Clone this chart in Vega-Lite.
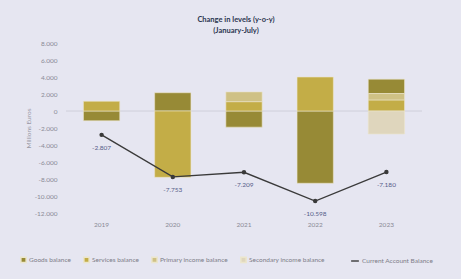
{
  "$schema": "https://vega.github.io/schema/vega-lite/v6.json",
  "width": 356,
  "height": 170,
  "autosize": {"type": "none"},
  "padding": {"left": 66, "top": 43, "right": 39, "bottom": 66},
  "background": "#e6e6f1",
  "config": {
    "locale": {"number": {"decimal": ",", "thousands": ".", "grouping": [3], "currency": ["", " €"], "minus": "-"}},
    "view": {"stroke": null},
    "font": "Lato",
    "axisX": {"ticks": false, "domain": false, "grid": false, "labelAngle": 0, "labelFontSize": 6.5, "labelColor": "#8a8a96", "labelPadding": 8},
    "axisY": {"ticks": false, "domain": false, "grid": false, "labelFontSize": 6.5, "labelColor": "#8a8a96", "labelPadding": 9, "labelOverlap": false, "titleFontSize": 6.5, "titleFontWeight": "normal", "titleColor": "#9a9aa6", "titlePadding": 3}
  },
  "title": {"text": ["Change in levels (y-o-y)", "(January-July)"], "fontSize": 7.5, "fontWeight": "bold", "color": "#2b3550", "lineHeight": 11, "offset": 6, "anchor": "middle", "dx": -8},
  "datasets": {
    "bars": [
      {"year": "2019", "series": "Goods balance", "value": -1150},
      {"year": "2019", "series": "Services balance", "value": 1150},
      {"year": "2020", "series": "Goods balance", "value": 2150},
      {"year": "2020", "series": "Services balance", "value": -7800},
      {"year": "2021", "series": "Goods balance", "value": -1900},
      {"year": "2021", "series": "Services balance", "value": 1100},
      {"year": "2021", "series": "Primary income balance", "value": 1150},
      {"year": "2022", "series": "Goods balance", "value": -8500},
      {"year": "2022", "series": "Services balance", "value": 4000},
      {"year": "2023", "series": "Goods balance", "value": 1700},
      {"year": "2023", "series": "Services balance", "value": 1300},
      {"year": "2023", "series": "Primary income balance", "value": 750},
      {"year": "2023", "series": "Secondary income balance", "value": -2700}
    ],
    "ca": [
      {"year": "2019", "ca": -2807},
      {"year": "2020", "ca": -7753},
      {"year": "2021", "ca": -7209},
      {"year": "2022", "ca": -10598},
      {"year": "2023", "ca": -7180}
    ]
  },
  "layer": [
    {
      "data": {"values": [{}]},
      "mark": {"type": "rule", "color": "#c9c9d6", "strokeWidth": 0.8},
      "encoding": {"y": {"datum": 0, "type": "quantitative", "title": "Millions Euros", "scale": {"domain": [-12000, 8000], "nice": false}, "axis": {"values": [8000, 6000, 4000, 2000, 0, -2000, -4000, -6000, -8000, -10000, -12000], "format": ",d", "labelOverlap": false}}}
    },
    {
      "data": {"name": "bars"},
      "mark": {"type": "bar", "stroke": "#ece6cc", "strokeWidth": 0.6},
      "encoding": {
        "x": {"field": "year", "type": "nominal", "title": null, "scale": {"paddingInner": 0.49, "paddingOuter": 0.245}},
        "y": {"field": "value", "type": "quantitative", "title": "Millions Euros", "axis": {"values": [8000, 6000, 4000, 2000, 0, -2000, -4000, -6000, -8000, -10000, -12000], "format": ",d", "labelOverlap": false}},
        "color": {
          "field": "series", "type": "nominal",
          "sort": ["Goods balance", "Services balance", "Primary income balance", "Secondary income balance"],
          "scale": {"domain": ["Goods balance", "Services balance", "Primary income balance", "Secondary income balance"], "range": ["#978a36", "#c3ad47", "#cfc185", "#dfd6bd"]},
          "legend": {"title": null, "orient": "none", "legendX": -46, "legendY": 213, "direction": "horizontal", "symbolType": "square", "symbolSize": 28, "labelFontSize": 6.5, "labelColor": "#7d7d88", "columnPadding": 9, "labelOffset": 2}
        }
      }
    },
    {
      "data": {"name": "ca"},
      "mark": {"type": "line", "strokeWidth": 1.4, "point": {"filled": true, "fill": "#3a3a3a", "size": 6}},
      "encoding": {
        "x": {"field": "year", "type": "nominal", "title": null},
        "y": {"field": "ca", "type": "quantitative", "title": "Millions Euros", "axis": {"values": [8000, 6000, 4000, 2000, 0, -2000, -4000, -6000, -8000, -10000, -12000], "format": ",d", "labelOverlap": false}},
        "stroke": {"datum": "Current Account Balance", "type": "nominal", "scale": {"range": ["#3a3a3a"]}, "legend": {"title": null, "orient": "none", "legendX": 284, "legendY": 213, "symbolType": "stroke", "symbolStrokeWidth": 1.4, "symbolSize": 60, "labelFontSize": 6.5, "labelColor": "#7d7d88", "labelOffset": 2}}
      }
    },
    {
      "data": {"name": "ca"},
      "mark": {"type": "text", "dy": 13, "fontSize": 6.5, "color": "#56608a"},
      "encoding": {
        "x": {"field": "year", "type": "nominal", "title": null},
        "y": {"field": "ca", "type": "quantitative", "title": "Millions Euros", "axis": {"values": [8000, 6000, 4000, 2000, 0, -2000, -4000, -6000, -8000, -10000, -12000], "format": ",d", "labelOverlap": false}},
        "text": {"field": "ca", "type": "quantitative", "format": ",d"}
      }
    }
  ]
}
